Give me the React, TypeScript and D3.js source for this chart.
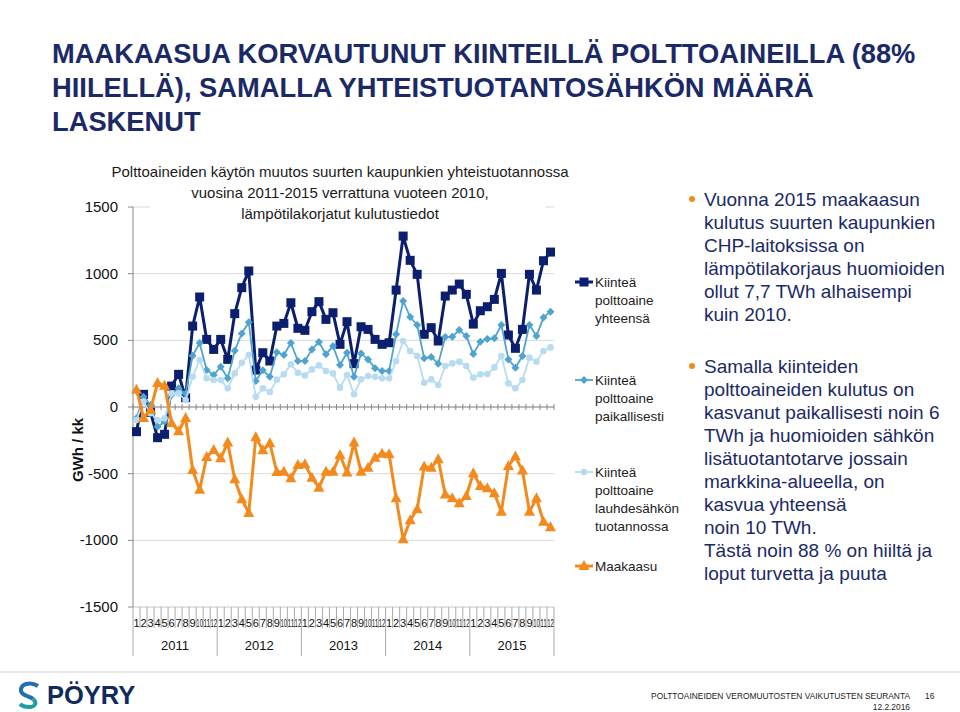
import React from "react";
import * as d3 from "d3";

const months = ["1","2","3","4","5","6","7","8","9","10","11","12"];
const years = ["2011","2012","2013","2014","2015"];
const yTicks = [1500, 1000, 500, 0, -500, -1000, -1500];

const yhteensa = [-185, 95, -40, -230, -205, 157, 245, 70, 607, 825, 507, 432, 507, 357, 700, 895, 1020, 277, 407, 345, 607, 627, 782, 590, 575, 715, 790, 657, 707, 470, 640, 325, 602, 582, 507, 470, 482, 877, 1282, 1100, 995, 545, 595, 495, 832, 877, 922, 845, 622, 722, 752, 807, 1002, 540, 440, 582, 995, 877, 1097, 1162];
const paikallisesti = [-85, 77, 15, -148, -110, 90, 140, 100, 385, 480, 277, 240, 302, 215, 422, 552, 636, 195, 275, 227, 410, 390, 480, 345, 345, 432, 487, 395, 457, 315, 407, 227, 402, 357, 290, 270, 270, 545, 795, 675, 615, 365, 375, 325, 525, 527, 577, 532, 397, 490, 510, 515, 615, 357, 295, 382, 615, 532, 672, 715];
const lauhde = [-97, 40, -47, -97, -85, 102, 102, 52, 227, 352, 215, 202, 202, 140, 252, 332, 390, 77, 140, 112, 205, 245, 320, 257, 237, 282, 312, 270, 252, 145, 240, 95, 207, 232, 227, 215, 215, 345, 495, 420, 382, 182, 207, 165, 307, 327, 340, 307, 220, 245, 247, 297, 382, 177, 140, 202, 370, 340, 420, 447];
const maakaasu = [130, -82, -20, 180, 160, -120, -182, -82, -473, -620, -375, -322, -385, -267, -542, -692, -795, -226, -325, -272, -488, -485, -535, -435, -430, -530, -605, -485, -485, -360, -492, -267, -485, -455, -380, -350, -355, -685, -992, -850, -767, -447, -455, -392, -657, -685, -722, -667, -497, -592, -610, -647, -785, -442, -372, -477, -785, -685, -860, -902];

const titleLines = [
  "MAAKAASUA KORVAUTUNUT KIINTEILLÄ POLTTOAINEILLA (88%",
  "HIILELLÄ), SAMALLA YHTEISTUOTANTOSÄHKÖN MÄÄRÄ",
  "LASKENUT",
];
const chartTitle = [
  "Polttoaineiden käytön muutos suurten kaupunkien yhteistuotannossa",
  "vuosina 2011-2015 verrattuna vuoteen 2010,",
  "lämpötilakorjatut kulutustiedot",
];
const legendItems = [
  { lines: ["Kiinteä", "polttoaine", "yhteensä"], key: "sq" },
  { lines: ["Kiinteä", "polttoaine", "paikallisesti"], key: "di" },
  { lines: ["Kiinteä", "polttoaine", "lauhdesähkön", "tuotannossa"], key: "ci" },
  { lines: ["Maakaasu"], key: "tr" },
];
const bullet1 = [
  "Vuonna 2015 maakaasun",
  "kulutus suurten kaupunkien",
  "CHP-laitoksissa on",
  "lämpötilakorjaus huomioiden",
  "ollut 7,7 TWh alhaisempi",
  "kuin 2010.",
];
const bullet2 = [
  "Samalla kiinteiden",
  "polttoaineiden kulutus on",
  "kasvanut paikallisesti noin 6",
  "TWh ja huomioiden sähkön",
  "lisätuotantotarve jossain",
  "markkina-alueella, on",
  "kasvua yhteensä",
  "noin 10 TWh.",
  "Tästä noin 88 % on hiiltä ja",
  "loput turvetta ja puuta",
];

const C_NAVY = "#0b1f6e";
const C_MID = "#4fa3cf";
const C_LIGHT = "#b7dcf1";
const C_ORANGE = "#f28a1e";
const TXT_NAVY = "#1b2a66";
const FONT = "'Liberation Sans', Arial, sans-serif";

const N = 60;
const idx = d3.range(N);
const x = d3.scaleBand<number>().domain(idx).range([133, 554]).padding(0);
const cx = (i: number) => (x(i) as number) + x.bandwidth() / 2;
const y = d3.scaleLinear().domain([-1500, 1500]).range([607, 207]);
const line = d3.line<number>().x((_, i) => cx(i)).y((d) => y(d));

function Marker({ kind, px, py }: { kind: string; px: number; py: number }) {
  if (kind === "sq") return <rect x={px - 4.5} y={py - 4.5} width={9} height={9} fill={C_NAVY} />;
  if (kind === "di") return <path d={`M${px},${py - 4}L${px + 4},${py}L${px},${py + 4}L${px - 4},${py}Z`} fill={C_MID} />;
  if (kind === "ci") return <circle cx={px} cy={py} r={3.3} fill={C_LIGHT} />;
  return <path d={`M${px},${py - 6}L${px + 5.5},${py + 4}L${px - 5.5},${py + 4}Z`} fill={C_ORANGE} />;
}

const seriesDefs = [
  { data: yhteensa, color: C_NAVY, width: 3, kind: "sq" },
  { data: paikallisesti, color: C_MID, width: 1.8, kind: "di" },
  { data: lauhde, color: C_LIGHT, width: 1.8, kind: "ci" },
  { data: maakaasu, color: C_ORANGE, width: 3, kind: "tr" },
];

export default function App() {
  const bw = x.bandwidth();
  return (
    <svg width={960} height={712} style={{ position: "absolute", left: 0, top: 0, background: "#fff" }} fontFamily={FONT}>
      <rect width={960} height={712} fill="#fff" />
      {titleLines.map((t, i) => (
        <text key={i} x={52} y={63 + i * 34} fontSize={27.3} fontWeight="bold" fill={TXT_NAVY}>{t}</text>
      ))}

      {/* gridlines */}
      {yTicks.map((v) => (
        <line key={v} x1={133} x2={554} y1={y(v)} y2={y(v)} stroke={v === -1500 ? "#c8c8c8" : "#d9d9d9"} strokeWidth={1} />
      ))}
      <rect x={150} y={203} width={395} height={8} fill="#fff" />
      {chartTitle.map((t, i) => (
        <text key={i} x={340} y={177 + i * 21} fontSize={15} textAnchor="middle" fill="#1a1a1a">{t}</text>
      ))}

      {/* y axis */}
      <line x1={133} x2={133} y1={207} y2={607} stroke="#888" />
      {yTicks.map((v) => (
        <g key={v}>
          <line x1={128} x2={133} y1={y(v)} y2={y(v)} stroke="#888" />
          <text x={118} y={y(v) + 5} fontSize={15} textAnchor="end" fill="#111">{v}</text>
        </g>
      ))}
      <text transform="translate(83,450) rotate(-90)" fontSize={15} fontWeight="bold" textAnchor="middle" fill="#111">GWh / kk</text>

      {/* zero category axis */}
      <line x1={133} x2={554} y1={y(0)} y2={y(0)} stroke="#888" />
      {d3.range(N + 1).map((i) => (
        <line key={i} x1={133 + i * bw} x2={133 + i * bw} y1={y(0) - 3} y2={y(0) + 3} stroke="#888" />
      ))}

      {/* bottom category labels */}
      {d3.range(N + 1).map((i) => (
        <line key={"bt" + i} x1={133 + i * bw} x2={133 + i * bw} y1={607} y2={i % 12 === 0 ? 656 : 628} stroke="#aaa" />
      ))}
      {idx.map((i) => {
        const lab = months[i % 12];
        return lab.length > 1 ? (
          <text key={"m" + i} x={cx(i) - 3.3} y={627} fontSize={11} textLength={6.6} lengthAdjust="spacingAndGlyphs" fill="#111">{lab}</text>
        ) : (
          <text key={"m" + i} x={cx(i)} y={627} fontSize={11} textAnchor="middle" fill="#111">{lab}</text>
        );
      })}
      {years.map((yr, k) => (
        <text key={yr} x={133 + (k * 12 + 6) * bw} y={650} fontSize={13} textAnchor="middle" fill="#111">{yr}</text>
      ))}

      {/* series */}
      {seriesDefs.map((s, si) => (
        <g key={si}>
          <path d={line(s.data) || ""} fill="none" stroke={s.color} strokeWidth={s.width} strokeLinejoin="round" />
          {s.data.map((v, i) => (
            <Marker key={i} kind={s.kind} px={cx(i)} py={y(v)} />
          ))}
        </g>
      ))}

      {/* legend */}
      {legendItems.map((it, k) => {
        const ys = [282, 380, 472, 566][k];
        const col = seriesDefs[k].color;
        return (
          <g key={k}>
            <line x1={575} x2={593} y1={ys} y2={ys} stroke={col} strokeWidth={seriesDefs[k].width} />
            <Marker kind={it.key} px={584} py={ys} />
            {it.lines.map((l, j) => (
              <text key={j} x={595} y={ys + 5 + j * 18} fontSize={13.5} fill="#222">{l}</text>
            ))}
          </g>
        );
      })}

      {/* right text */}
      <circle cx={692} cy={199} r={3} fill={C_ORANGE} />
      {bullet1.map((t, i) => (
        <text key={i} x={704} y={206 + i * 23} fontSize={19} fill={TXT_NAVY}>{t}</text>
      ))}
      <circle cx={692} cy={366} r={3} fill={C_ORANGE} />
      {bullet2.map((t, i) => (
        <text key={i} x={704} y={373 + i * 23} fontSize={19} fill={TXT_NAVY}>{t}</text>
      ))}

      {/* footer */}
      <line x1={0} x2={960} y1={672} y2={672} stroke="#d0d0d0" />
      <g>
        <path d="M38,686 C30,681 20,684 21,691 C22,696 30,696 33,699" fill="none" stroke="#1f6fb2" strokeWidth={4} />
        <path d="M33,699 C37,702 36,707 29,707 C25,707 22,706 20,704" fill="none" stroke="#1aa0a0" strokeWidth={4} />
        <text x={47} y={704} fontSize={25.5} fontWeight="bold" fill="#0f2a5c">PÖYRY</text>
      </g>
      <text x={910} y={699} fontSize={8.4} textAnchor="end" fill="#222">POLTTOAINEIDEN VEROMUUTOSTEN VAIKUTUSTEN SEURANTA</text>
      <text x={925} y={699} fontSize={8.4} fill="#222">16</text>
      <text x={910} y={710} fontSize={8.4} textAnchor="end" fill="#222">12.2.2016</text>
    </svg>
  );
}
